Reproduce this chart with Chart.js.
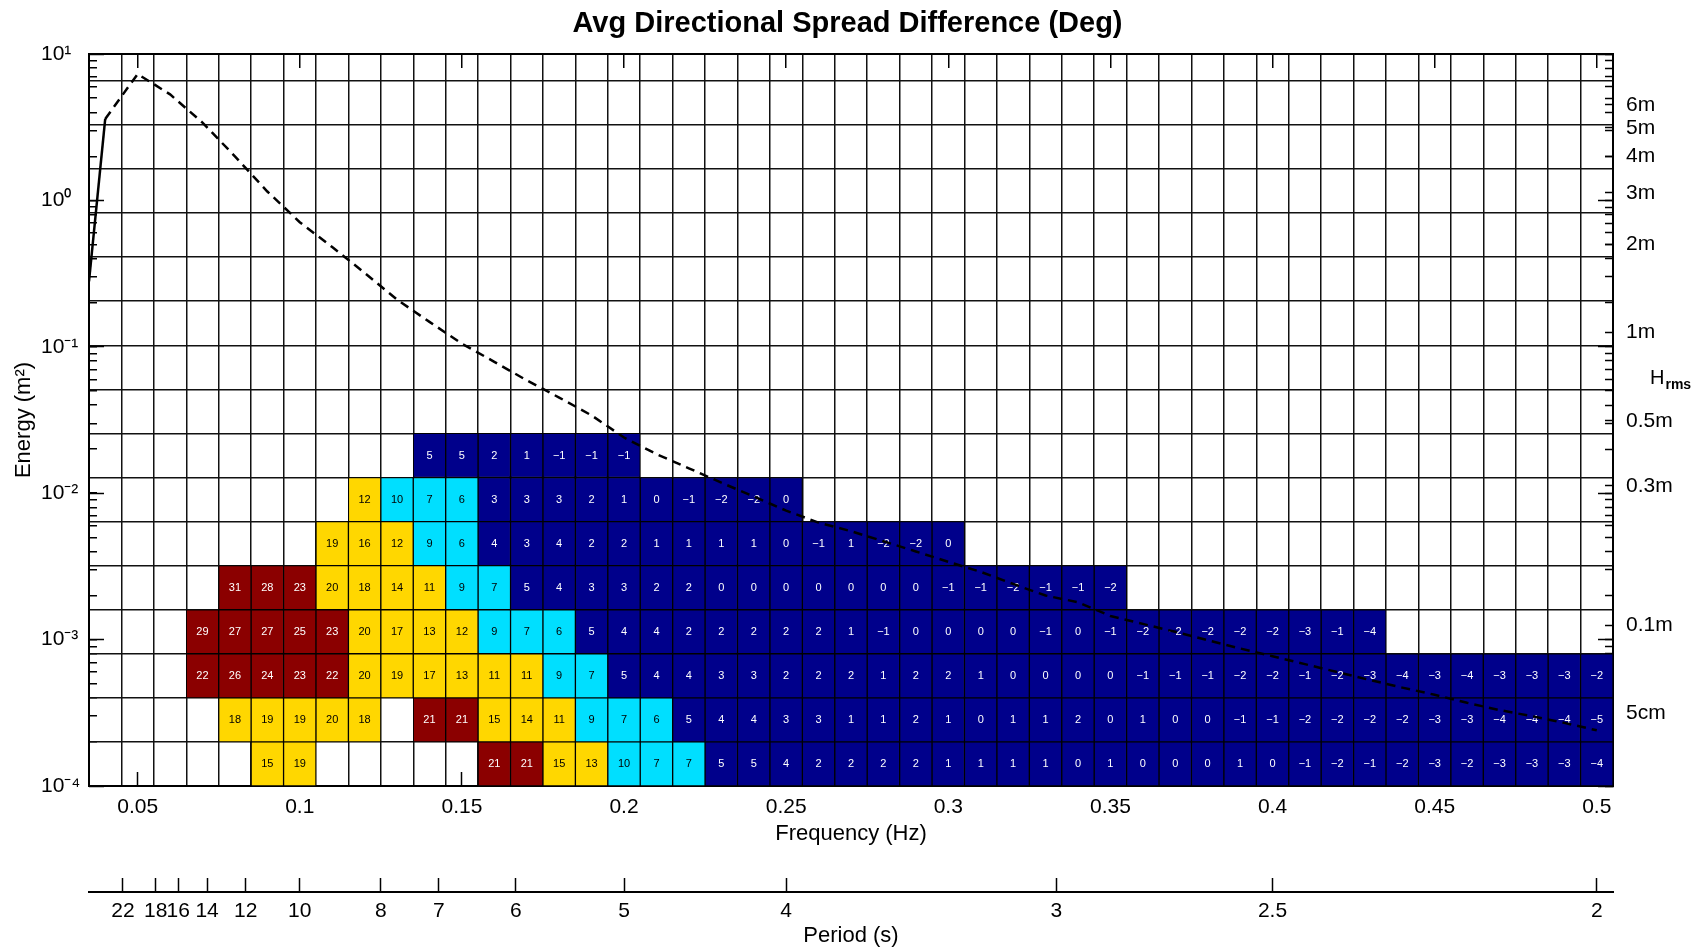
<!DOCTYPE html>
<html>
<head>
<meta charset="utf-8">
<script src="https://cdn.jsdelivr.net/npm/chart.js@4.4.0/dist/chart.umd.min.js"></script>
<style>
  html, body { margin: 0; padding: 0; background: #fff; }
  #wrap { width: 1695px; height: 949px; position: relative; }
</style>
</head>
<body>
<div id="wrap"><canvas id="canvas"></canvas></div>
<script>
const FONT = '"Liberation Sans", Arial, sans-serif';
const _ = null;

// frequency bins (Hz), centre of each column
const freqs = [0.04, 0.05, 0.06, 0.07, 0.08, 0.09, 0.10, 0.11, 0.12, 0.13, 0.14, 0.15,
  0.16, 0.17, 0.18, 0.19, 0.20, 0.21, 0.22, 0.23, 0.24, 0.25, 0.26, 0.27, 0.28, 0.29,
  0.30, 0.31, 0.32, 0.33, 0.34, 0.35, 0.36, 0.37, 0.38, 0.39, 0.40, 0.41, 0.42, 0.43,
  0.44, 0.45, 0.46, 0.47, 0.48, 0.49, 0.50];

// energy bands (m^2), one row of cells each
const bandLow = [1e-4, 2e-4, 4e-4, 8e-4, 1.6e-3, 3.2e-3, 6.4e-3, 1.28e-2];
const bandHigh = [2e-4, 4e-4, 8e-4, 1.6e-3, 3.2e-3, 6.4e-3, 1.28e-2, 2.56e-2];

// avg directional spread difference (deg), one value per frequency bin
const band0 = [_, _, _, _, _, 15, 19, _, _, _, _, _, 21, 21, 15, 13, 10, 7, 7, 5, 5, 4, 2, 2, 2, 2, 1, 1, 1, 1, 0, 1, 0, 0, 0, 1, 0, -1, -2, -1, -2, -3, -2, -3, -3, -3, -4];
const band1 = [_, _, _, _, 18, 19, 19, 20, 18, _, 21, 21, 15, 14, 11, 9, 7, 6, 5, 4, 4, 3, 3, 1, 1, 2, 1, 0, 1, 1, 2, 0, 1, 0, 0, -1, -1, -2, -2, -2, -2, -3, -3, -4, -4, -4, -5];
const band2 = [_, _, _, 22, 26, 24, 23, 22, 20, 19, 17, 13, 11, 11, 9, 7, 5, 4, 4, 3, 3, 2, 2, 2, 1, 2, 2, 1, 0, 0, 0, 0, -1, -1, -1, -2, -2, -1, -2, -3, -4, -3, -4, -3, -3, -3, -2];
const band3 = [_, _, _, 29, 27, 27, 25, 23, 20, 17, 13, 12, 9, 7, 6, 5, 4, 4, 2, 2, 2, 2, 2, 1, -1, 0, 0, 0, 0, -1, 0, -1, -2, -2, -2, -2, -2, -3, -1, -4, _, _, _, _, _, _, _];
const band4 = [_, _, _, _, 31, 28, 23, 20, 18, 14, 11, 9, 7, 5, 4, 3, 3, 2, 2, 0, 0, 0, 0, 0, 0, 0, -1, -1, -2, -1, -1, -2, _, _, _, _, _, _, _, _, _, _, _, _, _, _, _];
const band5 = [_, _, _, _, _, _, _, 19, 16, 12, 9, 6, 4, 3, 4, 2, 2, 1, 1, 1, 1, 0, -1, 1, -2, -2, 0, _, _, _, _, _, _, _, _, _, _, _, _, _, _, _, _, _, _, _, _];
const band6 = [_, _, _, _, _, _, _, _, 12, 10, 7, 6, 3, 3, 3, 2, 1, 0, -1, -2, -2, 0, _, _, _, _, _, _, _, _, _, _, _, _, _, _, _, _, _, _, _, _, _, _, _, _, _];
const band7 = [_, _, _, _, _, _, _, _, _, _, 5, 5, 2, 1, -1, -1, -1, _, _, _, _, _, _, _, _, _, _, _, _, _, _, _, _, _, _, _, _, _, _, _, _, _, _, _, _, _, _];
const bands = [band0, band1, band2, band3, band4, band5, band6, band7];

// energy spectrum (m^2)
const specFreq = [0.035, 0.04, 0.05, 0.06, 0.07, 0.08, 0.09, 0.10, 0.11, 0.12, 0.13, 0.14,
  0.15, 0.16, 0.17, 0.18, 0.19, 0.20, 0.21, 0.22, 0.23, 0.24, 0.25, 0.26, 0.27, 0.28,
  0.29, 0.30, 0.31, 0.32, 0.33, 0.34, 0.35, 0.36, 0.37, 0.38, 0.39, 0.40, 0.41, 0.42,
  0.43, 0.44, 0.45, 0.46, 0.47, 0.48, 0.49, 0.50];
const specEnergy = [0.28, 3.6, 7.3, 5.3, 3.4, 2.0, 1.15, 0.71, 0.48, 0.32, 0.21, 0.148,
  0.105, 0.079, 0.059, 0.045, 0.034, 0.024, 0.0185, 0.0148, 0.0118, 0.0095, 0.0076, 0.0063,
  0.0055, 0.0047, 0.0040, 0.0034, 0.0029, 0.0024, 0.0020, 0.0018, 0.00145, 0.00128, 0.00113,
  0.00099, 0.00087, 0.00077, 0.00068, 0.00060, 0.00053, 0.00047, 0.00042, 0.00037, 0.00033,
  0.00030, 0.00027, 0.00024];

// axis ticks
const freqTicks = [0.05, 0.1, 0.15, 0.2, 0.25, 0.3, 0.35, 0.4, 0.45, 0.5];
const periodTicks = [22, 18, 16, 14, 12, 10, 8, 7, 6, 5, 4, 3, 2.5, 2];
const decadeTicks = [1e-4, 1e-3, 1e-2, 1e-1, 1, 10];
const decadeLabels = ['10⁻⁴', '10⁻³', '10⁻²', '10⁻¹', '10⁰', '10¹'];
const hmsHeights = [6, 5, 4, 3, 2, 1, 0.5, 0.3, 0.1, 0.05];
const hmsLabels = ['6m', '5m', '4m', '3m', '2m', '1m', '0.5m', '0.3m', '0.1m', '5cm'];
const rowLines = [2e-4, 4e-4, 8e-4, 1.6e-3, 3.2e-3, 6.4e-3, 1.28e-2, 2.56e-2, 5.12e-2,
  0.1024, 0.2048, 0.4096, 0.8192, 1.6384, 3.2768, 6.5536];

function cellColor(v) {
  if (v >= 21) return '#8b0000';
  if (v >= 11) return '#ffd700';
  if (v >= 6) return '#00dfff';
  return '#00008b';
}

function fmt(v) {
  return v < 0 ? '\u2212' + (-v) : String(v);
}

const cells = [];
bands.forEach((row, k) => {
  row.forEach((v, i) => {
    if (v !== null) cells.push({ x: freqs[i], y: [bandLow[k], bandHigh[k]], v: v });
  });
});

const spectrum = specFreq.map((f, i) => ({ x: f, y: specEnergy[i] }));

// Hrms -> spectral energy, E = H^2 / 8
const hmsEnergy = hmsHeights.map(h => h * h / 8);
const colEdges = freqs.slice(1).map(f => f - 0.005);
const minorTicks = [];
for (let d = -4; d <= 0; d++) {
  for (let m = 2; m <= 9; m++) minorTicks.push(m * Math.pow(10, d));
}

const clear = 'rgba(0,0,0,0)';
const fixSize = (dim, px) => scale => { scale[dim] = px; };
// each scale gets its own tick objects, chart.js writes labels onto them
const setTicks = list => scale => {
  scale.ticks = list.map(t => Object.assign({}, t)).sort((a, b) => a.value - b.value);
};

const logTicks = minorTicks.map(v => ({ value: v, kind: 'minor' }))
  .concat(decadeTicks.map((v, i) => ({ value: v, kind: 'decade', text: decadeLabels[i] })));

// draws the value inside each cell
const cellLabels = {
  id: 'cellLabels',
  afterDatasetDraw(chart, args) {
    if (args.index !== 0) return;
    const ctx = chart.ctx;
    const data = chart.data.datasets[0].data;
    ctx.save();
    ctx.font = '11px ' + FONT;
    ctx.textAlign = 'center';
    ctx.textBaseline = 'middle';
    args.meta.data.forEach((bar, i) => {
      const v = data[i].v;
      ctx.fillStyle = (v >= 6 && v <= 20) ? '#000' : '#fff';
      ctx.fillText(fmt(v), bar.x, (bar.y + bar.base) / 2);
    });
    ctx.restore();
  }
};

// H with "rms" subscript beside the right axis
const hmsTitle = {
  id: 'hmsTitle',
  afterDraw(chart) {
    const s = chart.scales.y2;
    const y = (s.getPixelForValue(hmsEnergy[5]) + s.getPixelForValue(hmsEnergy[6])) / 2;
    const x = s.left + 37;
    const ctx = chart.ctx;
    ctx.save();
    ctx.fillStyle = '#000';
    ctx.textBaseline = 'alphabetic';
    ctx.font = '20px ' + FONT;
    ctx.fillText('H', x, y + 7);
    const w = ctx.measureText('H').width;
    ctx.font = 'bold 14px ' + FONT;
    ctx.fillText('rms', x + w + 1, y + 12);
    ctx.restore();
  }
};

Chart.defaults.font.family = FONT;
Chart.defaults.color = '#000';

const ctx = document.getElementById('canvas').getContext('2d');
const myChart = new Chart(ctx, {
  type: 'bar',
  data: {
    datasets: [
      {
        type: 'bar',
        label: 'Spread difference',
        data: cells,
        order: 2,
        backgroundColor: c => (c.raw ? cellColor(c.raw.v) : '#00008b'),
        borderColor: '#000',
        borderWidth: 1,
        borderSkipped: false,
        barPercentage: 1,
        categoryPercentage: 1,
      },
      {
        type: 'line',
        label: 'Energy',
        data: spectrum,
        order: 1,
        borderColor: '#000',
        borderWidth: 2.5,
        borderDash: [9, 6],
        pointRadius: 0,
        fill: false,
        tension: 0,
        segment: { borderDash: c => (c.p0DataIndex === 0 ? [] : undefined) },
      },
    ],
  },
  options: {
    responsive: true,
    maintainAspectRatio: false,
    animation: false,
    events: [],
    layout: { padding: 0 },
    plugins: {
      legend: { display: false },
      tooltip: { enabled: false },
      title: {
        display: true,
        text: 'Avg Directional Spread Difference (Deg)',
        font: { size: 29, weight: 'bold' },
        padding: { top: 7, bottom: 12.2 },
      },
    },
    scales: {
      x: {
        type: 'linear', position: 'bottom', weight: 0,
        min: 0.035, max: 0.505, offset: false,
        afterFit: fixSize('height', 106),
        afterBuildTicks: setTicks(freqTicks.map(v => ({ value: v }))),
        ticks: {
          autoSkip: false, maxRotation: 0, minRotation: 0, padding: 23, font: { size: 21 },
          callback: v => String(v),
        },
        grid: { offset: false, drawOnChartArea: false, tickLength: -14, tickWidth: 1.5, tickColor: '#000' },
        border: { color: '#000', width: 2 },
        title: { display: true, text: 'Frequency (Hz)', font: { size: 22 }, padding: { top: 0, bottom: 45 } },
      },
      x2: {
        type: 'linear', position: 'bottom', weight: 1,
        min: 0.035, max: 0.505, offset: false,
        afterFit: fixSize('height', 57),
        afterBuildTicks: setTicks(periodTicks.map(p => ({ value: 1 / p, period: p }))),
        ticks: {
          autoSkip: false, maxRotation: 0, minRotation: 0, padding: 21, font: { size: 21 },
          callback: (v, i, t) => String(t[i].period),
        },
        grid: { offset: false, drawOnChartArea: false, tickLength: -14, tickWidth: 1.5, tickColor: '#000' },
        border: { color: '#000', width: 2 },
        title: { display: true, text: 'Period (s)', font: { size: 22 }, padding: { top: 0, bottom: 0 } },
      },
      // column lines across the plot plus the marks along the top edge
      xTop: {
        type: 'linear', position: 'top',
        min: 0.035, max: 0.505, offset: false,
        afterFit: fixSize('height', 0),
        afterBuildTicks: setTicks(colEdges.map(v => ({ value: v, kind: 'edge' }))
          .concat(freqTicks.map(v => ({ value: v, kind: 'label' })))),
        ticks: { display: false },
        grid: {
          offset: false, lineWidth: 1.5, tickLength: -14, tickWidth: 1.5,
          color: c => (c.tick && c.tick.kind === 'edge' ? '#111' : clear),
          tickColor: c => (c.tick && c.tick.kind === 'label' ? '#000' : clear),
        },
        border: { color: '#000', width: 2 },
      },
      y: {
        type: 'logarithmic', position: 'left', weight: 1,
        min: 1e-4, max: 10,
        afterFit: fixSize('width', 48),
        afterBuildTicks: setTicks(logTicks.concat(rowLines.map(v => ({ value: v, kind: 'row' })))),
        ticks: {
          autoSkip: false, crossAlign: 'far', font: { size: 21 },
          callback: (v, i, t) => (t[i].kind === 'decade' ? t[i].text : ''),
        },
        grid: {
          lineWidth: 1.5, tickLength: -8, tickWidth: 1.5,
          color: c => (c.tick && c.tick.kind === 'row' ? '#111' : clear),
          tickColor: c => (c.tick && c.tick.kind !== 'row' ? '#000' : clear),
        },
        border: { color: '#000', width: 2 },
      },
      yMajor: {
        type: 'logarithmic', position: 'left', weight: 0,
        min: 1e-4, max: 10,
        afterFit: fixSize('width', 0),
        afterBuildTicks: setTicks(decadeTicks.map(v => ({ value: v }))),
        ticks: { display: false },
        grid: { drawOnChartArea: false, tickLength: -15, tickWidth: 1.5, tickColor: '#000' },
        border: { display: false },
      },
      yT: {
        type: 'linear', position: 'left', weight: 2,
        afterFit: fixSize('width', 41),
        ticks: { display: false },
        grid: { display: false },
        border: { display: false },
        title: { display: true, text: 'Energy (m²)', font: { size: 22 }, padding: { top: 11, bottom: 0 } },
      },
      y2: {
        type: 'logarithmic', position: 'right', weight: 1,
        min: 1e-4, max: 10,
        afterFit: fixSize('width', 82),
        afterBuildTicks: setTicks(logTicks.concat(hmsEnergy.map((v, i) => ({ value: v, kind: 'hms', text: hmsLabels[i] })))),
        ticks: {
          autoSkip: false, padding: 21, font: { size: 21 },
          callback: (v, i, t) => (t[i].kind === 'hms' ? t[i].text : ''),
        },
        grid: { drawOnChartArea: false, tickLength: -8, tickWidth: 1.5, tickColor: '#000' },
        border: { color: '#000', width: 2 },
      },
      y2Major: {
        type: 'logarithmic', position: 'right', weight: 0,
        min: 1e-4, max: 10,
        afterFit: fixSize('width', 0),
        afterBuildTicks: setTicks(decadeTicks.map(v => ({ value: v }))),
        ticks: { display: false },
        grid: { drawOnChartArea: false, tickLength: -15, tickWidth: 1.5, tickColor: '#000' },
        border: { display: false },
      },
    },
  },
  plugins: [cellLabels, hmsTitle],
});
</script>
</body>
</html>
